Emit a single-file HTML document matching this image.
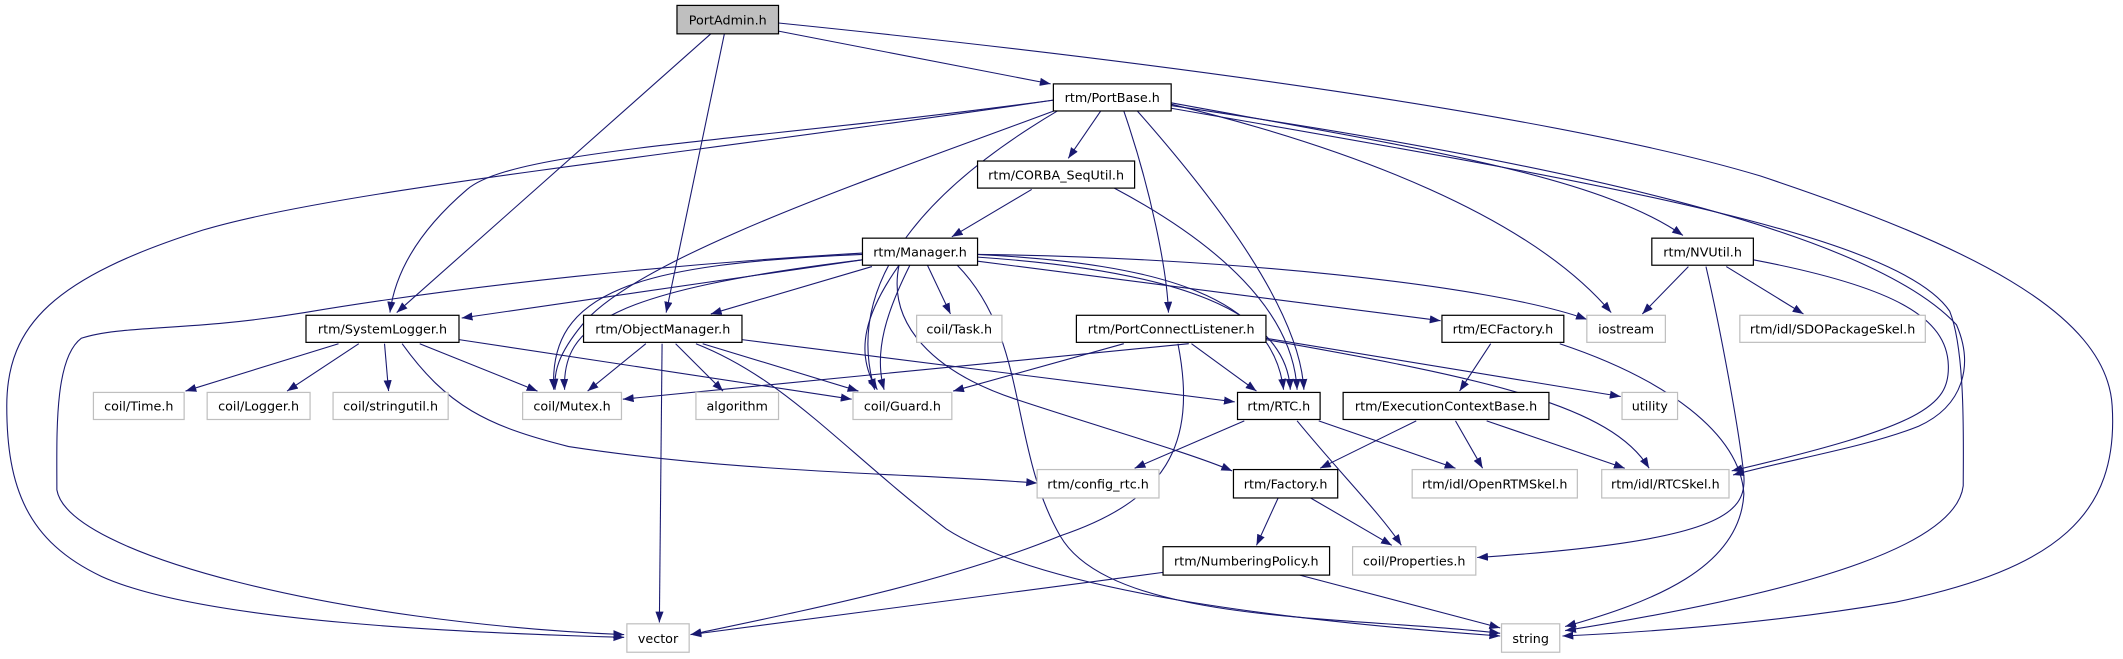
<!DOCTYPE html>
<html><head><meta charset="utf-8"><style>html,body{margin:0;padding:0;background:#fff}svg{display:block}</style></head><body>
<svg width="2123" height="659" viewBox="0 0 1568 487" preserveAspectRatio="none" xmlns="http://www.w3.org/2000/svg">
<defs><marker id="a" markerUnits="userSpaceOnUse" markerWidth="9" markerHeight="7" refX="8" refY="3" orient="auto"><path d="M0,0 L8,3 L0,6 z" fill="#191970"/></marker></defs>
<g fill="none" stroke="#191970" stroke-width="0.8" marker-end="url(#a)">
<path d="M575,23 L776,62"/>
<path d="M575,17 C850,45 1150,85 1300,130 C1450,180 1556,230 1560,300 C1565,380 1520,420 1400,445 C1300,462 1200,468 1154,470"/>
<path d="M525,25 L293,231"/>
<path d="M535,25 L492,231"/>
<path d="M778,74 C550,105 380,110 345,140 C310,170 292,200 288,231"/>
<path d="M778,74 C500,115 250,140 150,170 C40,205 5,240 5,300 C5,360 20,400 75,426 C150,460 350,468 461,471"/>
<path d="M781,81 C650,130 470,190 430,240 C412,262 409,275 410,288"/>
<path d="M781,82 C700,130 620,200 646,288"/>
<path d="M813,82 L789,117"/>
<path d="M762,140 L703,175"/>
<path d="M830,82 C850,140 862,200 863,231"/>
<path d="M840,82 C900,150 960,230 963,288"/>
<path d="M823,139 C900,180 955,230 958,288"/>
<path d="M865,77 C1000,110 1130,160 1190,231"/>
<path d="M865,76 C1050,110 1180,130 1243,174"/>
<path d="M1295,192 C1400,212 1438,235 1439,270 C1440,300 1420,315 1279,348"/>
<path d="M865,78 C1150,120 1380,170 1445,240 C1458,270 1450,300 1417,315 C1380,330 1320,340 1280,351"/>
<path d="M865,80 C1150,130 1400,170 1440,230 C1452,260 1450,330 1450,359 C1445,400 1350,435 1156,466"/>
<path d="M637,192 L341,235"/>
<path d="M644,197 L525,232"/>
<path d="M637,187 C500,195 350,210 225,231 C140,245 90,240 60,250 C40,265 42,320 42,362 C50,410 250,460 461,469"/>
<path d="M637,188 C470,195 405,215 409,288"/>
<path d="M637,192 C450,215 415,240 417,288"/>
<path d="M685,196 L702,232"/>
<path d="M664,196 C640,230 630,260 648,288"/>
<path d="M672,196 C655,230 645,260 653,288"/>
<path d="M664,196 C655,240 690,275 750,295 S880,335 910,348"/>
<path d="M707,196 C760,250 745,330 783,396 S1000,455 1108,468"/>
<path d="M722,188 C860,195 940,220 948,288"/>
<path d="M722,190 C870,200 950,230 953,288"/>
<path d="M722,193 L1064,237"/>
<path d="M722,188 C900,190 1100,210 1172,236"/>
<path d="M878,254 L460,295"/>
<path d="M830,254 L704,289"/>
<path d="M880,254 L928,289"/>
<path d="M870,254 C885,330 860,370 783,396 C700,430 600,450 510,469"/>
<path d="M935,250 L1197,293"/>
<path d="M935,251 C1100,280 1190,300 1218,346"/>
<path d="M548,251 L912,297"/>
<path d="M477,254 L434,289"/>
<path d="M499,254 L534,289"/>
<path d="M519,254 L634,289"/>
<path d="M489,254 L487,460"/>
<path d="M514,254 C580,280 620,330 699,391 C760,430 900,455 1108,470"/>
<path d="M250,254 L137,289"/>
<path d="M265,254 L212,289"/>
<path d="M284,254 L287,289"/>
<path d="M310,254 L397,289"/>
<path d="M339,251 L629,295"/>
<path d="M297,254 C330,300 360,315 420,330 C550,350 680,350 766,357"/>
<path d="M1247,197 L1213,232"/>
<path d="M1275,197 L1332,232"/>
<path d="M1260,197 C1270,240 1285,320 1288,352 C1290,380 1270,400 1091,412"/>
<path d="M1101,254 L1078,289"/>
<path d="M1152,254 C1230,280 1285,320 1288,365 C1285,420 1220,445 1156,463"/>
<path d="M919,311 L838,346"/>
<path d="M974,311 L1075,346"/>
<path d="M958,311 C990,350 1020,380 1035,403"/>
<path d="M1046,311 L975,346"/>
<path d="M1075,311 L1095,346"/>
<path d="M1098,311 L1200,346"/>
<path d="M944,368 L928,403"/>
<path d="M968,368 L1028,403"/>
<path d="M859,423 L510,469"/>
<path d="M960,425 L1108,464"/>
</g>
<g stroke-width="0.9" fill="#fff">
<rect x="500" y="4" width="75" height="21" fill="#bfbfbf" stroke="#000"/>
<g stroke="#000">
<rect x="778" y="62" width="87" height="20"/>
<rect x="722" y="119" width="116" height="20"/>
<rect x="637" y="176" width="85" height="20"/>
<rect x="1220" y="176" width="75" height="20"/>
<rect x="226" y="233" width="113" height="20"/>
<rect x="431" y="233" width="117" height="20"/>
<rect x="795" y="233" width="140" height="20"/>
<rect x="1065" y="233" width="90" height="20"/>
<rect x="914" y="290" width="61" height="20"/>
<rect x="992" y="290" width="152" height="20"/>
<rect x="911" y="347" width="77" height="21"/>
<rect x="859" y="404" width="123" height="21"/>
</g>
<g stroke="#bfbfbf">
<rect x="677" y="233" width="63" height="20"/>
<rect x="1172" y="233" width="58" height="20"/>
<rect x="1285" y="233" width="137" height="20"/>
<rect x="69" y="290" width="67" height="20"/>
<rect x="153" y="290" width="76" height="20"/>
<rect x="246" y="290" width="85" height="20"/>
<rect x="386" y="290" width="73" height="20"/>
<rect x="514" y="290" width="61" height="20"/>
<rect x="630" y="290" width="73" height="20"/>
<rect x="1198" y="290" width="41" height="20"/>
<rect x="766" y="347" width="90" height="21"/>
<rect x="1043" y="347" width="122" height="21"/>
<rect x="1183" y="347" width="94" height="21"/>
<rect x="999" y="404" width="91" height="21"/>
<rect x="463" y="461" width="46" height="21"/>
<rect x="1109" y="461" width="43" height="21"/>
</g>
</g>
<g font-family="DejaVu Sans, Liberation Sans, sans-serif" font-size="9.4" text-anchor="middle" fill="#000">
<text x="537.5" y="18">PortAdmin.h</text>
<text x="821.5" y="75.5">rtm/PortBase.h</text>
<text x="780" y="132.5">rtm/CORBA_SeqUtil.h</text>
<text x="679.5" y="189.5">rtm/Manager.h</text>
<text x="1257.5" y="189.5">rtm/NVUtil.h</text>
<text x="282.5" y="246.5">rtm/SystemLogger.h</text>
<text x="489.5" y="246.5">rtm/ObjectManager.h</text>
<text x="708.5" y="246.5">coil/Task.h</text>
<text x="865" y="246.5">rtm/PortConnectListener.h</text>
<text x="1110" y="246.5">rtm/ECFactory.h</text>
<text x="1201" y="246.5">iostream</text>
<text x="1353.5" y="246.5">rtm/idl/SDOPackageSkel.h</text>
<text x="102.5" y="303.5">coil/Time.h</text>
<text x="191" y="303.5">coil/Logger.h</text>
<text x="288.5" y="303.5">coil/stringutil.h</text>
<text x="422.5" y="303.5">coil/Mutex.h</text>
<text x="544.5" y="303.5">algorithm</text>
<text x="666.5" y="303.5">coil/Guard.h</text>
<text x="944.5" y="303.5">rtm/RTC.h</text>
<text x="1068" y="303.5">rtm/ExecutionContextBase.h</text>
<text x="1218.5" y="303.5">utility</text>
<text x="811" y="361">rtm/config_rtc.h</text>
<text x="949.5" y="361">rtm/Factory.h</text>
<text x="1104" y="361">rtm/idl/OpenRTMSkel.h</text>
<text x="1230" y="361">rtm/idl/RTCSkel.h</text>
<text x="920.5" y="418">rtm/NumberingPolicy.h</text>
<text x="1044.5" y="418">coil/Properties.h</text>
<text x="486" y="475">vector</text>
<text x="1130.5" y="475">string</text>
</g>
</svg>
</body></html>
